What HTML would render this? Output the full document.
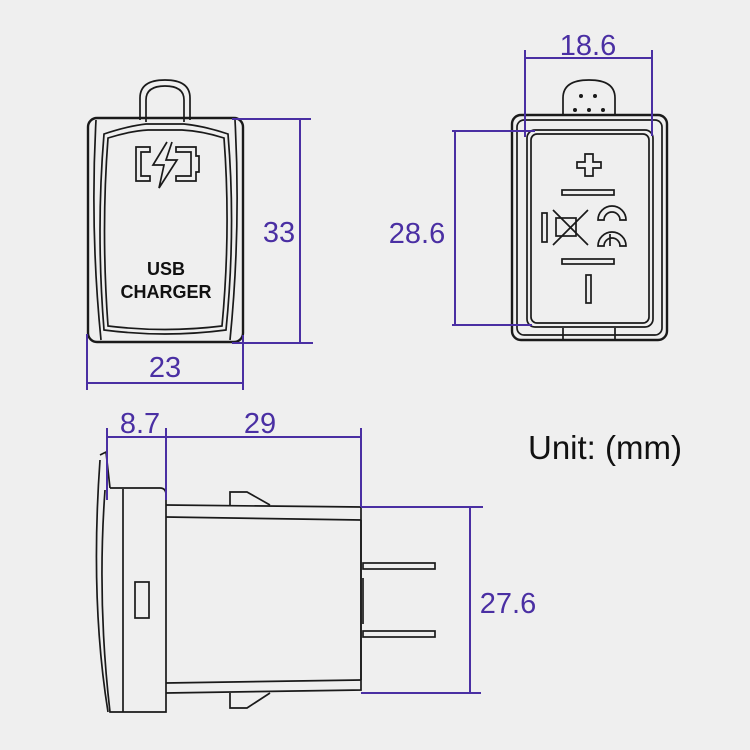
<!DOCTYPE html>
<html><head><style>body{margin:0;background:#efefef}svg{display:block}</style></head>
<body>
<svg width="750" height="750" viewBox="0 0 750 750" xmlns="http://www.w3.org/2000/svg">
<rect width="750" height="750" fill="#efefef"/>
<g fill="none" stroke="#1a1a1a" stroke-width="1.7">
<!-- Front view -->
<path d="M140 120 L140 98 Q140 80 165 80 Q190 80 190 98 L190 120"/>
<path d="M146 122 L146 100 Q146 86 165 86 Q184 86 184 100 L184 122"/>
<rect x="88" y="118" width="155" height="224" rx="9" stroke-width="2.4"/>
<path d="M96 120 Q90 230 101 340"/><path d="M235 120 Q241 230 230 340"/>
<path d="M104 134 Q128 126 146 124 L184 124 Q204 126 228 134 Q236 230 226 330 Q165 338 104 330 Q96 230 104 134Z"/>
<path d="M108 138 Q130 131 148 130 L182 130 Q202 131 224 138 Q231 230 222 326 Q165 333 108 326 Q101 230 108 138Z"/>
<path d="M136 147 h14 v5 h-9 v24 h9 v5 h-14z M176 147 h20 v9 h3 v16 h-3 v9 h-20 v-5 h15 v-24 h-15z"/>
<path d="M167 142 L153 165 L164 165 L159 188 L177 160 L166 160 L172 142"/>
</g>
<text x="166" y="275" font-family="Liberation Sans, sans-serif" font-weight="bold" font-size="18" text-anchor="middle" fill="#111">USB</text>
<text x="166" y="298" font-family="Liberation Sans, sans-serif" font-weight="bold" font-size="18" text-anchor="middle" fill="#111">CHARGER</text>

<!-- Back view -->
<g fill="none" stroke="#1a1a1a" stroke-width="1.7">
<rect x="512" y="115" width="155" height="225" rx="9" stroke-width="2.4"/>
<rect x="517" y="120" width="145" height="215" rx="7"/>
<rect x="527" y="130" width="126" height="197" rx="8"/>
<rect x="531" y="134" width="118" height="189" rx="6"/>
<path d="M563 115 L563 98 Q563 80 589 80 Q615 80 615 98 L615 115"/>
<path d="M563 328 v12 M615 328 v12"/>
<path d="M585 154 h8 v8 h8 v6 h-8 v8 h-8 v-8 h-8 v-6 h8z"/>
<rect x="562" y="190" width="52" height="5"/>
<rect x="562" y="259" width="52" height="5"/>
<rect x="586" y="275" width="5" height="28"/>
<rect x="542" y="213" width="5" height="29"/>
<path d="M553 210 L588 245 M588 210 L553 245"/>
<rect x="556" y="218" width="20" height="18"/>
<path d="M598 220 a14 14 0 0 1 28 0 h-6 a8 8 0 0 0 -16 0z"/>
<path d="M598 246 a14 14 0 0 1 28 0 h-6 a8 8 0 0 0 -16 0z M610 234 v12"/>
</g>
<g fill="#1a1a1a"><circle cx="581" cy="96" r="2"/><circle cx="595" cy="96" r="2"/><circle cx="575" cy="110" r="2"/><circle cx="589" cy="110" r="2"/><circle cx="603" cy="110" r="2"/></g>

<!-- Side view -->
<g fill="none" stroke="#1a1a1a" stroke-width="1.7">
<path d="M100 455 L106 452 L110 488"/>
<path d="M110 488 L160 488 Q166 488 166 495 L166 712 L110 712 Q97 600 105 490"/>
<path d="M100 460 Q90 600 108 712"/>
<path d="M123 489 v223"/>
<rect x="135" y="582" width="14" height="36"/>
<path d="M166 505 L361 507 L361 690 L166 693"/>
<path d="M166 517 L361 520 M166 683 L361 680"/>
<path d="M230 505 V492 L247 492 L270 505 M230 693 V708 L247 708 L270 693"/>
<path d="M361 520 V680"/>
<rect x="363" y="563" width="72" height="6"/>
<rect x="363" y="631" width="72" height="6"/>
<path d="M363 578 V624"/>
</g>

<!-- Dimensions -->
<g stroke="#4a2fa3" stroke-width="2" fill="none">
<path d="M232 119 H311 M232 343 H313 M300 119 V343"/>
<path d="M87 334 V390 M243 335 V390 M87 383 H243"/>
<path d="M525 50 V137 M652 50 V136 M525 58 H652"/>
<path d="M452 131 H535 M452 325 H532 M455 131 V325"/>
<path d="M107 428 V500 M166 428 V500 M361 428 V507 M107 437 H361"/>
<path d="M361 507 H483 M361 693 H481 M470 507 V693"/>
</g>
<g font-family="Liberation Sans, sans-serif" font-size="29" fill="#4a2fa3" text-anchor="middle">
<text x="279" y="242">33</text>
<text x="165" y="377">23</text>
<text x="588" y="55">18.6</text>
<text x="417" y="243">28.6</text>
<text x="140" y="433">8.7</text>
<text x="260" y="433">29</text>
<text x="508" y="613">27.6</text>
</g>
<text x="605" y="459" font-family="Liberation Sans, sans-serif" font-size="33" fill="#111" text-anchor="middle">Unit: (mm)</text>
</svg>
</body></html>
